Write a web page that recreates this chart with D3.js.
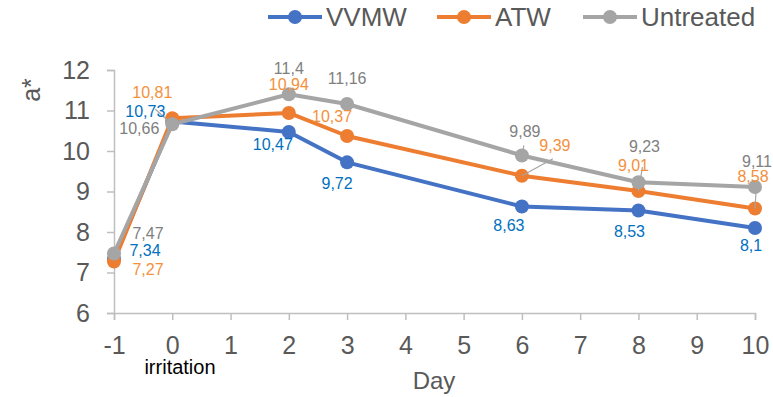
<!DOCTYPE html>
<html><head><meta charset="utf-8">
<script src="https://cdn.jsdelivr.net/npm/d3@7"></script>
<style>body{margin:0;background:#fff}svg{display:block}text{font-family:"Liberation Sans",Arial,sans-serif}</style>
</head><body><svg id="c" width="773" height="397"></svg>
<script>
const days = [-1, 0, 2, 3, 6, 8, 10];
const xTicks = [-1, 0, 1, 2, 3, 4, 5, 6, 7, 8, 9, 10];
const yTicks = [6, 7, 8, 9, 10, 11, 12];
const seriesNames = ["VVMW", "ATW", "Untreated"];
const vvmw = [7.34, 10.73, 10.47, 9.72, 8.63, 8.53, 8.1];
const atw = [7.27, 10.81, 10.94, 10.37, 9.39, 9.01, 8.58];
const untreated = [7.47, 10.66, 11.4, 11.16, 9.89, 9.23, 9.11];

const lineColors = ["#4472C4", "#ED7D31", "#A5A5A5"];
const labelColors = ["#0070C0", "#F4903B", "#808080"];
// label offsets [dx, dy] relative to the point, in pixels
const labelOffsets = [
  [[31, -8], [-27, -10], [-16, 13], [-10, 21], [-13, 19], [-9, 21], [-4, 18]],
  [[34, 8], [-20, -26], [0, -28], [-15, -20], [33, -30], [-5, -26], [-2, -32]],
  [[34, -20], [-33, 4], [0, -26], [0, -26], [3, -24], [6, -36], [2, -26]]
];
// leader lines: [series, point index, dx, dy of far end]
const leaders = [[2, 1, -17, -15], [1, 4, 31, -17], [1, 5, 4, -24], [1, 6, 1, -16], [2, 4, 2, -10]];
const data = [vvmw, atw, untreated];

const svg = d3.select("#c");
const x = d3.scaleLinear().domain([-1, 10]).range([114, 755]);
const y = d3.scaleLinear().domain([6, 12]).range([313, 70]);

const axisColor = "#BFBFBF";
const tickText = "#595959";
const ff = "Liberation Sans, Arial, sans-serif";

// y axis
const ya = svg.append("g").attr("transform", "translate(114,0)")
  .call(d3.axisLeft(y).tickValues(yTicks).tickSize(7).tickPadding(17).tickFormat(d3.format("d")));
ya.select(".domain").attr("stroke", axisColor).attr("stroke-width", 1.5);
ya.selectAll(".tick line").attr("stroke", axisColor).attr("stroke-width", 1.5);
ya.selectAll(".tick text").attr("fill", tickText).attr("font-size", 25).attr("font-family", ff);

// x axis
const xa = svg.append("g").attr("transform", "translate(0,313)")
  .call(d3.axisBottom(x).tickValues(xTicks).tickSize(7).tickPadding(16).tickFormat(d3.format("d")));
xa.select(".domain").attr("stroke", axisColor).attr("stroke-width", 1.5);
xa.selectAll(".tick line").attr("stroke", axisColor).attr("stroke-width", 1.5);
xa.selectAll(".tick text").attr("fill", tickText).attr("font-size", 25).attr("font-family", ff)
  .text(d => d < 0 ? "-" + Math.abs(d) : d);

// lines and markers
const line = d3.line().x((d, i) => x(days[i])).y(d => y(d));
data.forEach((s, k) => {
  svg.append("path").datum(s).attr("d", line).attr("fill", "none")
    .attr("stroke", lineColors[k]).attr("stroke-width", 4).attr("stroke-linejoin", "round");
  svg.append("g").selectAll("circle").data(s).join("circle")
    .attr("cx", (d, i) => x(days[i])).attr("cy", d => y(d)).attr("r", 7)
    .attr("fill", lineColors[k]);
});

// leader lines (gray)
leaders.forEach(([k, i, dx, dy]) => {
  const px = x(days[i]), py = y(data[k][i]);
  svg.append("line").attr("x1", px).attr("y1", py).attr("x2", px + dx).attr("y2", py + dy)
    .attr("stroke", "#A5A5A5").attr("stroke-width", 1.2);
});

// data labels
data.forEach((s, k) => {
  svg.append("g").selectAll("text").data(s).join("text")
    .attr("x", (d, i) => x(days[i]) + labelOffsets[k][i][0])
    .attr("y", (d, i) => y(d) + labelOffsets[k][i][1])
    .attr("text-anchor", "middle").attr("dominant-baseline", "central")
    .attr("font-size", 16).attr("fill", labelColors[k])
    .text(d => String(d).replace(".", ","));
});

// axis titles
svg.append("text").attr("x", 434).attr("y", 389).attr("text-anchor", "middle")
  .attr("font-size", 24).attr("fill", tickText).text("Day");
svg.append("text").attr("transform", "translate(40,90) rotate(-90)").attr("text-anchor", "middle")
  .attr("font-size", 25).attr("fill", tickText).text("a*");
svg.append("text").attr("x", 180).attr("y", 374).attr("text-anchor", "middle")
  .attr("font-size", 20).attr("fill", "#000").text("irritation");

// legend
const legX = [268, 437, 583];
seriesNames.forEach((n, k) => {
  const g = svg.append("g").attr("transform", `translate(${legX[k]},17)`);
  g.append("line").attr("x1", 0).attr("x2", 54).attr("stroke", lineColors[k]).attr("stroke-width", 4);
  g.append("circle").attr("cx", 27).attr("r", 7).attr("fill", lineColors[k]);
  g.append("text").attr("x", 58).attr("y", 0).attr("dominant-baseline", "central")
    .attr("font-size", 26).attr("fill", tickText).text(n);
});
</script></body></html>
